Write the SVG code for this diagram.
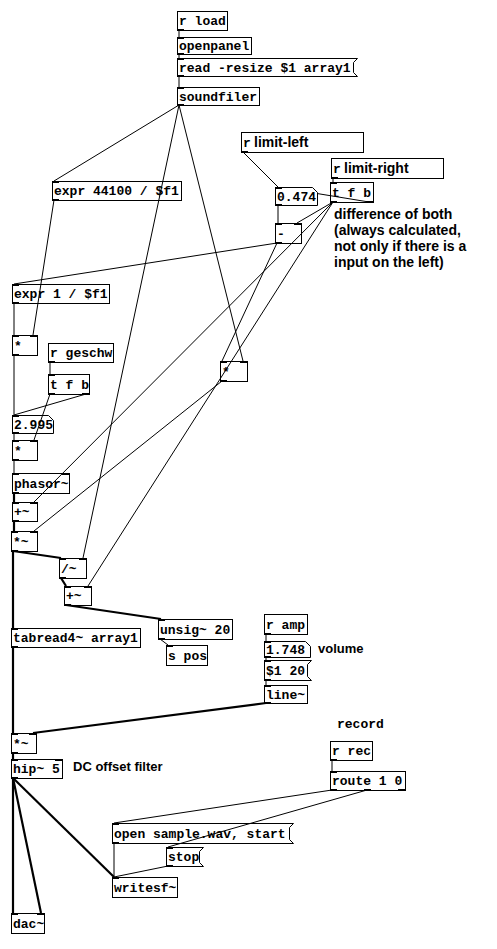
<svg xmlns="http://www.w3.org/2000/svg" width="497" height="949" viewBox="0 0 497 949">
<style>
.b{fill:none;stroke:#000;stroke-width:1}
.t{font-family:"Liberation Mono","DejaVu Sans Mono",monospace;font-weight:bold;font-size:13px;fill:#000}
.s{font-family:"Liberation Sans",Arial,sans-serif;font-weight:bold;font-size:14px;fill:#000}
.io{fill:#000}
.w{stroke:#000;stroke-width:1;fill:none}
.g{stroke:#000;stroke-width:2.2;fill:none}
</style>
<rect width="497" height="949" fill="#fff"/>
<g id="connectors">
<line class="w" x1="179" y1="30" x2="179" y2="37"/>
<line class="w" x1="179" y1="54" x2="179" y2="58"/>
<line class="w" x1="179" y1="76" x2="179" y2="87"/>
<line class="w" x1="179" y1="105" x2="54" y2="181"/>
<line class="w" x1="179" y1="105" x2="83" y2="558"/>
<line class="w" x1="179" y1="105" x2="243" y2="361"/>
<line class="w" x1="243" y1="152" x2="278" y2="187"/>
<line class="w" x1="333" y1="178" x2="333" y2="182"/>
<line class="w" x1="369" y1="202" x2="317" y2="193.5"/>
<line class="w" x1="278" y1="205" x2="278" y2="223"/>
<line class="w" x1="333" y1="202" x2="297" y2="223"/>
<line class="w" x1="333" y1="202" x2="34" y2="502"/>
<line class="w" x1="333" y1="202" x2="88" y2="586"/>
<line class="w" x1="277" y1="243" x2="14" y2="284"/>
<line class="w" x1="277" y1="243" x2="222" y2="361"/>
<line class="w" x1="54" y1="200" x2="33" y2="335"/>
<line class="w" x1="14" y1="303" x2="14" y2="335"/>
<line class="w" x1="14" y1="355" x2="14" y2="415"/>
<line class="w" x1="50" y1="362" x2="50" y2="374"/>
<line class="w" x1="50" y1="394" x2="34" y2="440"/>
<line class="w" x1="86" y1="394" x2="14" y2="415"/>
<line class="w" x1="14" y1="433" x2="14" y2="440"/>
<line class="w" x1="14" y1="460" x2="14" y2="473"/>
<line class="g" x1="14" y1="493" x2="14" y2="502"/>
<line class="g" x1="14" y1="521" x2="14" y2="531"/>
<line class="w" x1="222" y1="381" x2="34" y2="531"/>
<line class="g" x1="13" y1="551" x2="61" y2="558"/>
<line class="g" x1="13" y1="551" x2="13" y2="628"/>
<line class="g" x1="61" y1="578" x2="66" y2="586"/>
<line class="g" x1="66" y1="605" x2="161" y2="619"/>
<line class="w" x1="160" y1="639" x2="168" y2="645"/>
<line class="g" x1="13" y1="647" x2="13" y2="733"/>
<line class="w" x1="266" y1="634" x2="266" y2="641"/>
<line class="w" x1="266" y1="657" x2="266" y2="660"/>
<line class="w" x1="266" y1="680" x2="266" y2="685"/>
<line class="g" x1="266" y1="703" x2="33" y2="733"/>
<line class="g" x1="13" y1="753" x2="13" y2="759"/>
<line class="g" x1="13" y1="778" x2="13" y2="913"/>
<line class="g" x1="13" y1="778" x2="41" y2="913"/>
<line class="g" x1="13" y1="778" x2="114" y2="877"/>
<line class="w" x1="332" y1="760" x2="332" y2="771"/>
<line class="w" x1="332" y1="790" x2="114" y2="823"/>
<line class="w" x1="367" y1="790" x2="168" y2="847"/>
<line class="w" x1="114" y1="843" x2="114" y2="877"/>
<line class="w" x1="168" y1="866" x2="114" y2="877"/>
</g>
<g id="n-rload"><rect class="b" x="177.5" y="11.5" width="50" height="19"/><text class="t" x="179" y="25">r load</text><rect class="io" x="177" y="29" width="7" height="2"/></g>
<g id="n-openpanel"><rect class="b" x="177.5" y="37.5" width="74" height="17"/><text class="t" x="179" y="50">openpanel</text><rect class="io" x="177" y="37" width="7" height="2"/><rect class="io" x="177" y="53" width="7" height="2"/></g>
<g id="n-read"><path class="b" d="M177.5,58.5H357.5L353.5,62.5V72.5L357.5,76.5H177.5Z"/><text class="t" x="179" y="72">read -resize $1 array1</text><rect class="io" x="177" y="58" width="7" height="2"/><rect class="io" x="177" y="75" width="7" height="2"/></g>
<g id="n-soundfiler"><rect class="b" x="177.5" y="87.5" width="82" height="18"/><text class="t" x="179" y="101">soundfiler</text><rect class="io" x="177" y="87" width="7" height="2"/><rect class="io" x="177" y="104" width="7" height="2"/></g>
<g id="n-limitleft"><rect class="b" x="241.5" y="132.5" width="122" height="20"/><text class="t" x="243" y="147">r</text><text class="s" x="254" y="147">limit-left</text><rect class="io" x="241" y="151" width="7" height="2"/></g>
<g id="n-limitright"><rect class="b" x="331.5" y="158.5" width="112" height="20"/><text class="t" x="333" y="173">r</text><text class="s" x="344" y="173">limit-right</text><rect class="io" x="331" y="177" width="7" height="2"/></g>
<g id="n-num474"><path d="M275.5,187.5H312.5L317.5,192.5V205.5H275.5Z" fill="#fff" stroke="#000"/><text class="t" x="277" y="201">0.474</text><rect class="io" x="275" y="187" width="7" height="2"/><rect class="io" x="275" y="204" width="7" height="2"/></g>
<g id="n-tfb1"><rect class="b" x="330.5" y="182.5" width="43" height="20"/><text class="t" x="332" y="197">t f b</text><rect class="io" x="330" y="182" width="7" height="2"/><rect class="io" x="330" y="201" width="7" height="2"/><rect class="io" x="366" y="201" width="7" height="2"/></g>
<g id="n-minus"><rect class="b" x="275.5" y="223.5" width="26" height="20"/><text class="t" x="277" y="238">-</text><rect class="io" x="275" y="223" width="7" height="2"/><rect class="io" x="294" y="223" width="7" height="2"/><rect class="io" x="275" y="242" width="7" height="2"/></g>
<g id="c-diff"><text class="s" x="334" y="219">difference of both</text><text class="s" x="334" y="235">(always calculated,</text><text class="s" x="334" y="251">not only if there is a</text><text class="s" x="334" y="267">input on the left)</text></g>
<g id="n-expr44100"><rect class="b" x="52.5" y="181.5" width="129" height="19"/><text class="t" x="54" y="195">expr 44100 / $f1</text><rect class="io" x="52" y="181" width="7" height="2"/><rect class="io" x="52" y="199" width="7" height="2"/></g>
<g id="n-expr1"><rect class="b" x="12.5" y="284.5" width="97" height="19"/><text class="t" x="14" y="298">expr 1 / $f1</text><rect class="io" x="12" y="284" width="7" height="2"/><rect class="io" x="12" y="302" width="7" height="2"/></g>
<g id="n-mul1"><rect class="b" x="12.5" y="335.5" width="25" height="20"/><text class="t" x="14" y="350">*</text><rect class="io" x="12" y="335" width="7" height="2"/><rect class="io" x="30" y="335" width="7" height="2"/><rect class="io" x="12" y="354" width="7" height="2"/></g>
<g id="n-geschw"><rect class="b" x="48.5" y="343.5" width="65" height="19"/><text class="t" x="50" y="357">r geschw</text><rect class="io" x="48" y="361" width="7" height="2"/></g>
<g id="n-tfb2"><rect class="b" x="48.5" y="374.5" width="41" height="20"/><text class="t" x="50" y="389">t f b</text><rect class="io" x="48" y="374" width="7" height="2"/><rect class="io" x="48" y="393" width="7" height="2"/><rect class="io" x="82" y="393" width="7" height="2"/></g>
<g id="n-num2995"><path class="b" d="M12.5,415.5H48.5L53.5,420.5V433.5H12.5Z"/><text class="t" x="14" y="429">2.995</text><rect class="io" x="12" y="415" width="7" height="2"/><rect class="io" x="12" y="432" width="7" height="2"/></g>
<g id="n-mulright"><rect class="b" x="220.5" y="361.5" width="27" height="20"/><text class="t" x="222" y="376">*</text><rect class="io" x="220" y="361" width="7" height="2"/><rect class="io" x="240" y="361" width="7" height="2"/><rect class="io" x="220" y="380" width="7" height="2"/></g>
<g id="n-mul3"><rect class="b" x="12.5" y="440.5" width="25" height="20"/><text class="t" x="14" y="455">*</text><rect class="io" x="12" y="440" width="7" height="2"/><rect class="io" x="30" y="440" width="7" height="2"/><rect class="io" x="12" y="459" width="7" height="2"/></g>
<g id="n-phasor"><rect class="b" x="12.5" y="473.5" width="57" height="20"/><text class="t" x="14" y="488">phasor~</text><rect class="io" x="12" y="473" width="7" height="2"/><rect class="io" x="62" y="473" width="7" height="2"/><rect class="io" x="12" y="492" width="7" height="2"/></g>
<g id="n-add1"><rect class="b" x="12.5" y="502.5" width="25" height="19"/><text class="t" x="14" y="516">+~</text><rect class="io" x="12" y="502" width="7" height="2"/><rect class="io" x="30" y="502" width="7" height="2"/><rect class="io" x="12" y="520" width="7" height="2"/></g>
<g id="n-mulsig1"><rect class="b" x="11.5" y="531.5" width="26" height="20"/><text class="t" x="13" y="546">*~</text><rect class="io" x="11" y="531" width="7" height="2"/><rect class="io" x="30" y="531" width="7" height="2"/><rect class="io" x="11" y="550" width="7" height="2"/></g>
<g id="n-div"><rect class="b" x="59.5" y="558.5" width="27" height="20"/><text class="t" x="61" y="573">/~</text><rect class="io" x="59" y="558" width="7" height="2"/><rect class="io" x="79" y="558" width="7" height="2"/><rect class="io" x="59" y="577" width="7" height="2"/></g>
<g id="n-add2"><rect class="b" x="64.5" y="586.5" width="27" height="19"/><text class="t" x="66" y="600">+~</text><rect class="io" x="64" y="586" width="7" height="2"/><rect class="io" x="84" y="586" width="7" height="2"/><rect class="io" x="64" y="604" width="7" height="2"/></g>
<g id="n-unsig"><rect class="b" x="158.5" y="619.5" width="74" height="20"/><text class="t" x="160" y="634">unsig~ 20</text><rect class="io" x="158" y="619" width="7" height="2"/><rect class="io" x="158" y="638" width="7" height="2"/></g>
<g id="n-spos"><rect class="b" x="166.5" y="645.5" width="41" height="20"/><text class="t" x="168" y="660">s pos</text><rect class="io" x="166" y="645" width="7" height="2"/></g>
<g id="n-tabread"><rect class="b" x="11.5" y="628.5" width="129" height="19"/><text class="t" x="13" y="642">tabread4~ array1</text><rect class="io" x="11" y="628" width="7" height="2"/><rect class="io" x="11" y="646" width="7" height="2"/></g>
<g id="n-ramp"><rect class="b" x="264.5" y="614.5" width="43" height="20"/><text class="t" x="266" y="629">r amp</text><rect class="io" x="264" y="633" width="7" height="2"/></g>
<g id="n-num1748"><path class="b" d="M264.5,641.5H305.5L310.5,646.5V657.5H264.5Z"/><text class="t" x="266" y="654">1.748</text><rect class="io" x="264" y="641" width="7" height="2"/><rect class="io" x="264" y="656" width="7" height="2"/></g>
<g id="c-volume"><text class="s" x="318" y="653" style="font-size:13px">volume</text></g>
<g id="n-msg120"><path class="b" d="M264.5,660.5H311.5L307.5,664.5V676.5L311.5,680.5H264.5Z"/><text class="t" x="266" y="675">$1 20</text><rect class="io" x="264" y="660" width="7" height="2"/><rect class="io" x="264" y="679" width="7" height="2"/></g>
<g id="n-line"><rect class="b" x="264.5" y="685.5" width="43" height="18"/><text class="t" x="266" y="699">line~</text><rect class="io" x="264" y="685" width="7" height="2"/><rect class="io" x="264" y="702" width="7" height="2"/></g>
<g id="n-mulsig2"><rect class="b" x="11.5" y="733.5" width="25" height="20"/><text class="t" x="13" y="748">*~</text><rect class="io" x="11" y="733" width="7" height="2"/><rect class="io" x="29" y="733" width="7" height="2"/><rect class="io" x="11" y="752" width="7" height="2"/></g>
<g id="n-hip"><rect class="b" x="11.5" y="759.5" width="51" height="19"/><text class="t" x="13" y="773">hip~ 5</text><rect class="io" x="11" y="759" width="7" height="2"/><rect class="io" x="55" y="759" width="7" height="2"/><rect class="io" x="11" y="777" width="7" height="2"/></g>
<g id="c-dc"><text class="s" x="73" y="771" style="font-size:13px">DC offset filter</text></g>
<g id="c-record"><text class="t" x="337" y="728">record</text></g>
<g id="n-rrec"><rect class="b" x="330.5" y="741.5" width="42" height="19"/><text class="t" x="332" y="755">r rec</text><rect class="io" x="330" y="759" width="7" height="2"/></g>
<g id="n-route"><rect class="b" x="330.5" y="771.5" width="75" height="19"/><text class="t" x="332" y="785">route 1 0</text><rect class="io" x="330" y="771" width="7" height="2"/><rect class="io" x="330" y="789" width="7" height="2"/><rect class="io" x="364" y="789" width="7" height="2"/><rect class="io" x="398" y="789" width="7" height="2"/></g>
<g id="n-open"><path class="b" d="M112.5,823.5H293.5L289.5,827.5V839.5L293.5,843.5H112.5Z"/><text class="t" x="114" y="838">open sample.wav, start</text><rect class="io" x="112" y="823" width="7" height="2"/><rect class="io" x="112" y="842" width="7" height="2"/></g>
<g id="n-stop"><path class="b" d="M166.5,847.5H203.5L199.5,851.5V862.5L203.5,866.5H166.5Z"/><text class="t" x="168" y="861">stop</text><rect class="io" x="166" y="847" width="7" height="2"/><rect class="io" x="166" y="865" width="7" height="2"/></g>
<g id="n-writesf"><rect class="b" x="112.5" y="877.5" width="65" height="20"/><text class="t" x="114" y="892">writesf~</text><rect class="io" x="112" y="877" width="7" height="2"/></g>
<g id="n-dac"><rect class="b" x="11.5" y="913.5" width="33" height="20"/><text class="t" x="13" y="928">dac~</text><rect class="io" x="11" y="913" width="7" height="2"/><rect class="io" x="37" y="913" width="7" height="2"/></g>
</svg>
